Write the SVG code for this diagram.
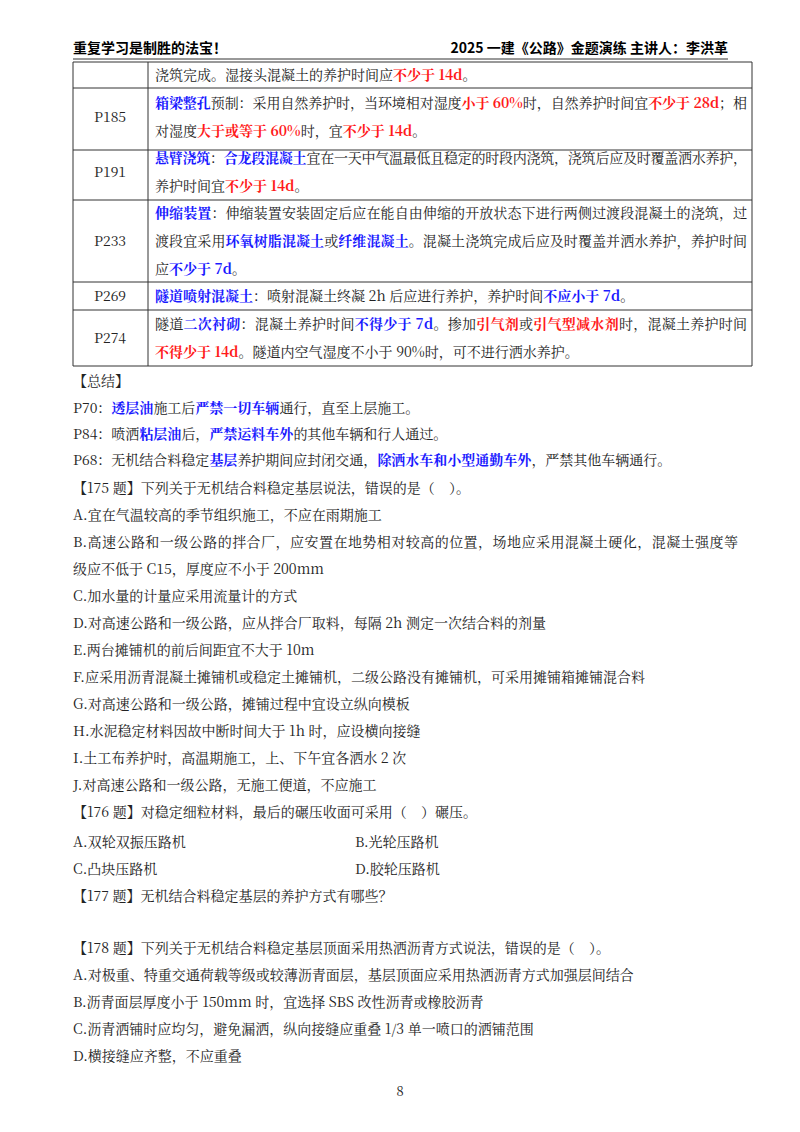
<svg xmlns="http://www.w3.org/2000/svg" width="800" height="1132" viewBox="0 0 800 1132">
<style>
text{font-family:"Noto Serif CJK SC","Noto Sans CJK SC","Liberation Serif",serif;font-size:14px;fill:#222;white-space:pre}
.b{fill:#1a1aff;font-weight:bold}
.r{fill:#ff1a1a;font-weight:bold}
.h{font-family:"Noto Sans CJK SC","Liberation Sans",sans-serif;font-weight:bold;font-size:14px;fill:#000}
.c{text-anchor:middle}
line{stroke:#333;stroke-width:1}
</style>
<rect width="800" height="1132" fill="#fff"/>
<text class="h" x="73" y="53">重复学习是制胜的法宝！</text>
<text class="h" x="728" y="53" text-anchor="end">2025 一建《公路》金题演练 主讲人：李洪革</text>
<line x1="73" y1="59" x2="728" y2="59" stroke-width="1.5"/>
<g id="table" fill="none">
<line x1="73" y1="62" x2="752" y2="62"/>
<line x1="73" y1="88" x2="752" y2="88"/>
<line x1="73" y1="150" x2="752" y2="150"/>
<line x1="73" y1="200" x2="752" y2="200"/>
<line x1="73" y1="282" x2="752" y2="282"/>
<line x1="73" y1="310" x2="752" y2="310"/>
<line x1="73" y1="366" x2="752" y2="366"/>
<line x1="73" y1="62" x2="73" y2="366"/>
<line x1="148" y1="62" x2="148" y2="366"/>
<line x1="752" y1="62" x2="752" y2="366"/>
</g>
<text x="155" y="80">浇筑完成。湿接头混凝土的养护时间应<tspan class="r">不少于 14d</tspan>。</text>
<text class="c" x="110" y="122">P185</text>
<text x="155" y="108" textLength="592" lengthAdjust="spacing"><tspan class="b">箱梁整孔</tspan>预制：采用自然养护时，当环境相对湿度<tspan class="r">小于 60%</tspan>时，自然养护时间宜<tspan class="r">不少于 28d</tspan>；相</text>
<text x="155" y="136">对湿度<tspan class="r">大于或等于 60%</tspan>时，宜<tspan class="r">不少于 14d</tspan>。</text>
<text class="c" x="110" y="177">P191</text>
<text x="155" y="163" textLength="592" lengthAdjust="spacing"><tspan class="b">悬臂浇筑</tspan>：<tspan class="b">合龙段混凝土</tspan>宜在一天中气温最低且稳定的时段内浇筑，浇筑后应及时覆盖洒水养护，</text>
<text x="155" y="191">养护时间宜<tspan class="r">不少于 14d</tspan>。</text>
<text class="c" x="110" y="246">P233</text>
<text x="155" y="218" textLength="592" lengthAdjust="spacing"><tspan class="b">伸缩装置</tspan>：伸缩装置安装固定后应在能自由伸缩的开放状态下进行两侧过渡段混凝土的浇筑，过</text>
<text x="155" y="246" textLength="592" lengthAdjust="spacing">渡段宜采用<tspan class="b">环氧树脂混凝土</tspan>或<tspan class="b">纤维混凝土</tspan>。混凝土浇筑完成后应及时覆盖并洒水养护，养护时间</text>
<text x="155" y="274">应<tspan class="b">不少于 7d</tspan>。</text>
<text class="c" x="110" y="301">P269</text>
<text x="155" y="301"><tspan class="b">隧道喷射混凝土</tspan>：喷射混凝土终凝 2h 后应进行养护，养护时间<tspan class="b">不应小于 7d</tspan>。</text>
<text class="c" x="110" y="343">P274</text>
<text x="155" y="329" textLength="592" lengthAdjust="spacing">隧道<tspan class="b">二次衬砌</tspan>：混凝土养护时间<tspan class="b">不得少于 7d</tspan>。掺加<tspan class="r">引气剂</tspan>或<tspan class="r">引气型减水剂</tspan>时，混凝土养护时间</text>
<text x="155" y="357"><tspan class="r">不得少于 14d</tspan>。隧道内空气湿度不小于 90%时，可不进行洒水养护。</text>
<text x="73" y="386">【总结】</text>
<text x="73" y="413">P70：<tspan class="b">透层油</tspan>施工后<tspan class="b">严禁一切车辆</tspan>通行，直至上层施工。</text>
<text x="73" y="439">P84：喷洒<tspan class="b">粘层油</tspan>后，<tspan class="b">严禁运料车外</tspan>的其他车辆和行人通过。</text>
<text x="73" y="465">P68：无机结合料稳定<tspan class="b">基层</tspan>养护期间应封闭交通，<tspan class="b">除洒水车和小型通勤车外</tspan>，严禁其他车辆通行。</text>
<text x="73" y="493">【175 题】下列关于无机结合料稳定基层说法，错误的是（    ）。</text>
<text x="73" y="520">A.宜在气温较高的季节组织施工，不应在雨期施工</text>
<text x="73" y="547" textLength="665" lengthAdjust="spacing">B.高速公路和一级公路的拌合厂，应安置在地势相对较高的位置，场地应采用混凝土硬化，混凝土强度等</text>
<text x="73" y="574">级应不低于 C15，厚度应不小于 200mm</text>
<text x="73" y="601">C.加水量的计量应采用流量计的方式</text>
<text x="73" y="628">D.对高速公路和一级公路，应从拌合厂取料，每隔 2h 测定一次结合料的剂量</text>
<text x="73" y="655">E.两台摊铺机的前后间距宜不大于 10m</text>
<text x="73" y="682">F.应采用沥青混凝土摊铺机或稳定土摊铺机，二级公路没有摊铺机，可采用摊铺箱摊铺混合料</text>
<text x="73" y="709">G.对高速公路和一级公路，摊铺过程中宜设立纵向模板</text>
<text x="73" y="736">H.水泥稳定材料因故中断时间大于 1h 时，应设横向接缝</text>
<text x="73" y="763">I.土工布养护时，高温期施工，上、下午宜各洒水 2 次</text>
<text x="73" y="790">J.对高速公路和一级公路，无施工便道，不应施工</text>
<text x="73" y="817">【176 题】对稳定细粒材料，最后的碾压收面可采用（    ）碾压。</text>
<text x="73" y="847">A.双轮双振压路机</text>
<text x="355" y="847">B.光轮压路机</text>
<text x="73" y="874">C.凸块压路机</text>
<text x="355" y="874">D.胶轮压路机</text>
<text x="73" y="901">【177 题】无机结合料稳定基层的养护方式有哪些？</text>
<text x="73" y="953">【178 题】下列关于无机结合料稳定基层顶面采用热洒沥青方式说法，错误的是（    ）。</text>
<text x="73" y="980">A.对极重、特重交通荷载等级或较薄沥青面层，基层顶面应采用热洒沥青方式加强层间结合</text>
<text x="73" y="1007">B.沥青面层厚度小于 150mm 时，宜选择 SBS 改性沥青或橡胶沥青</text>
<text x="73" y="1034">C.沥青洒铺时应均匀，避免漏洒，纵向接缝应重叠 1/3 单一喷口的洒铺范围</text>
<text x="73" y="1061">D.横接缝应齐整，不应重叠</text>
<text class="c" x="400" y="1096" style="font-size:13px">8</text>
</svg>
